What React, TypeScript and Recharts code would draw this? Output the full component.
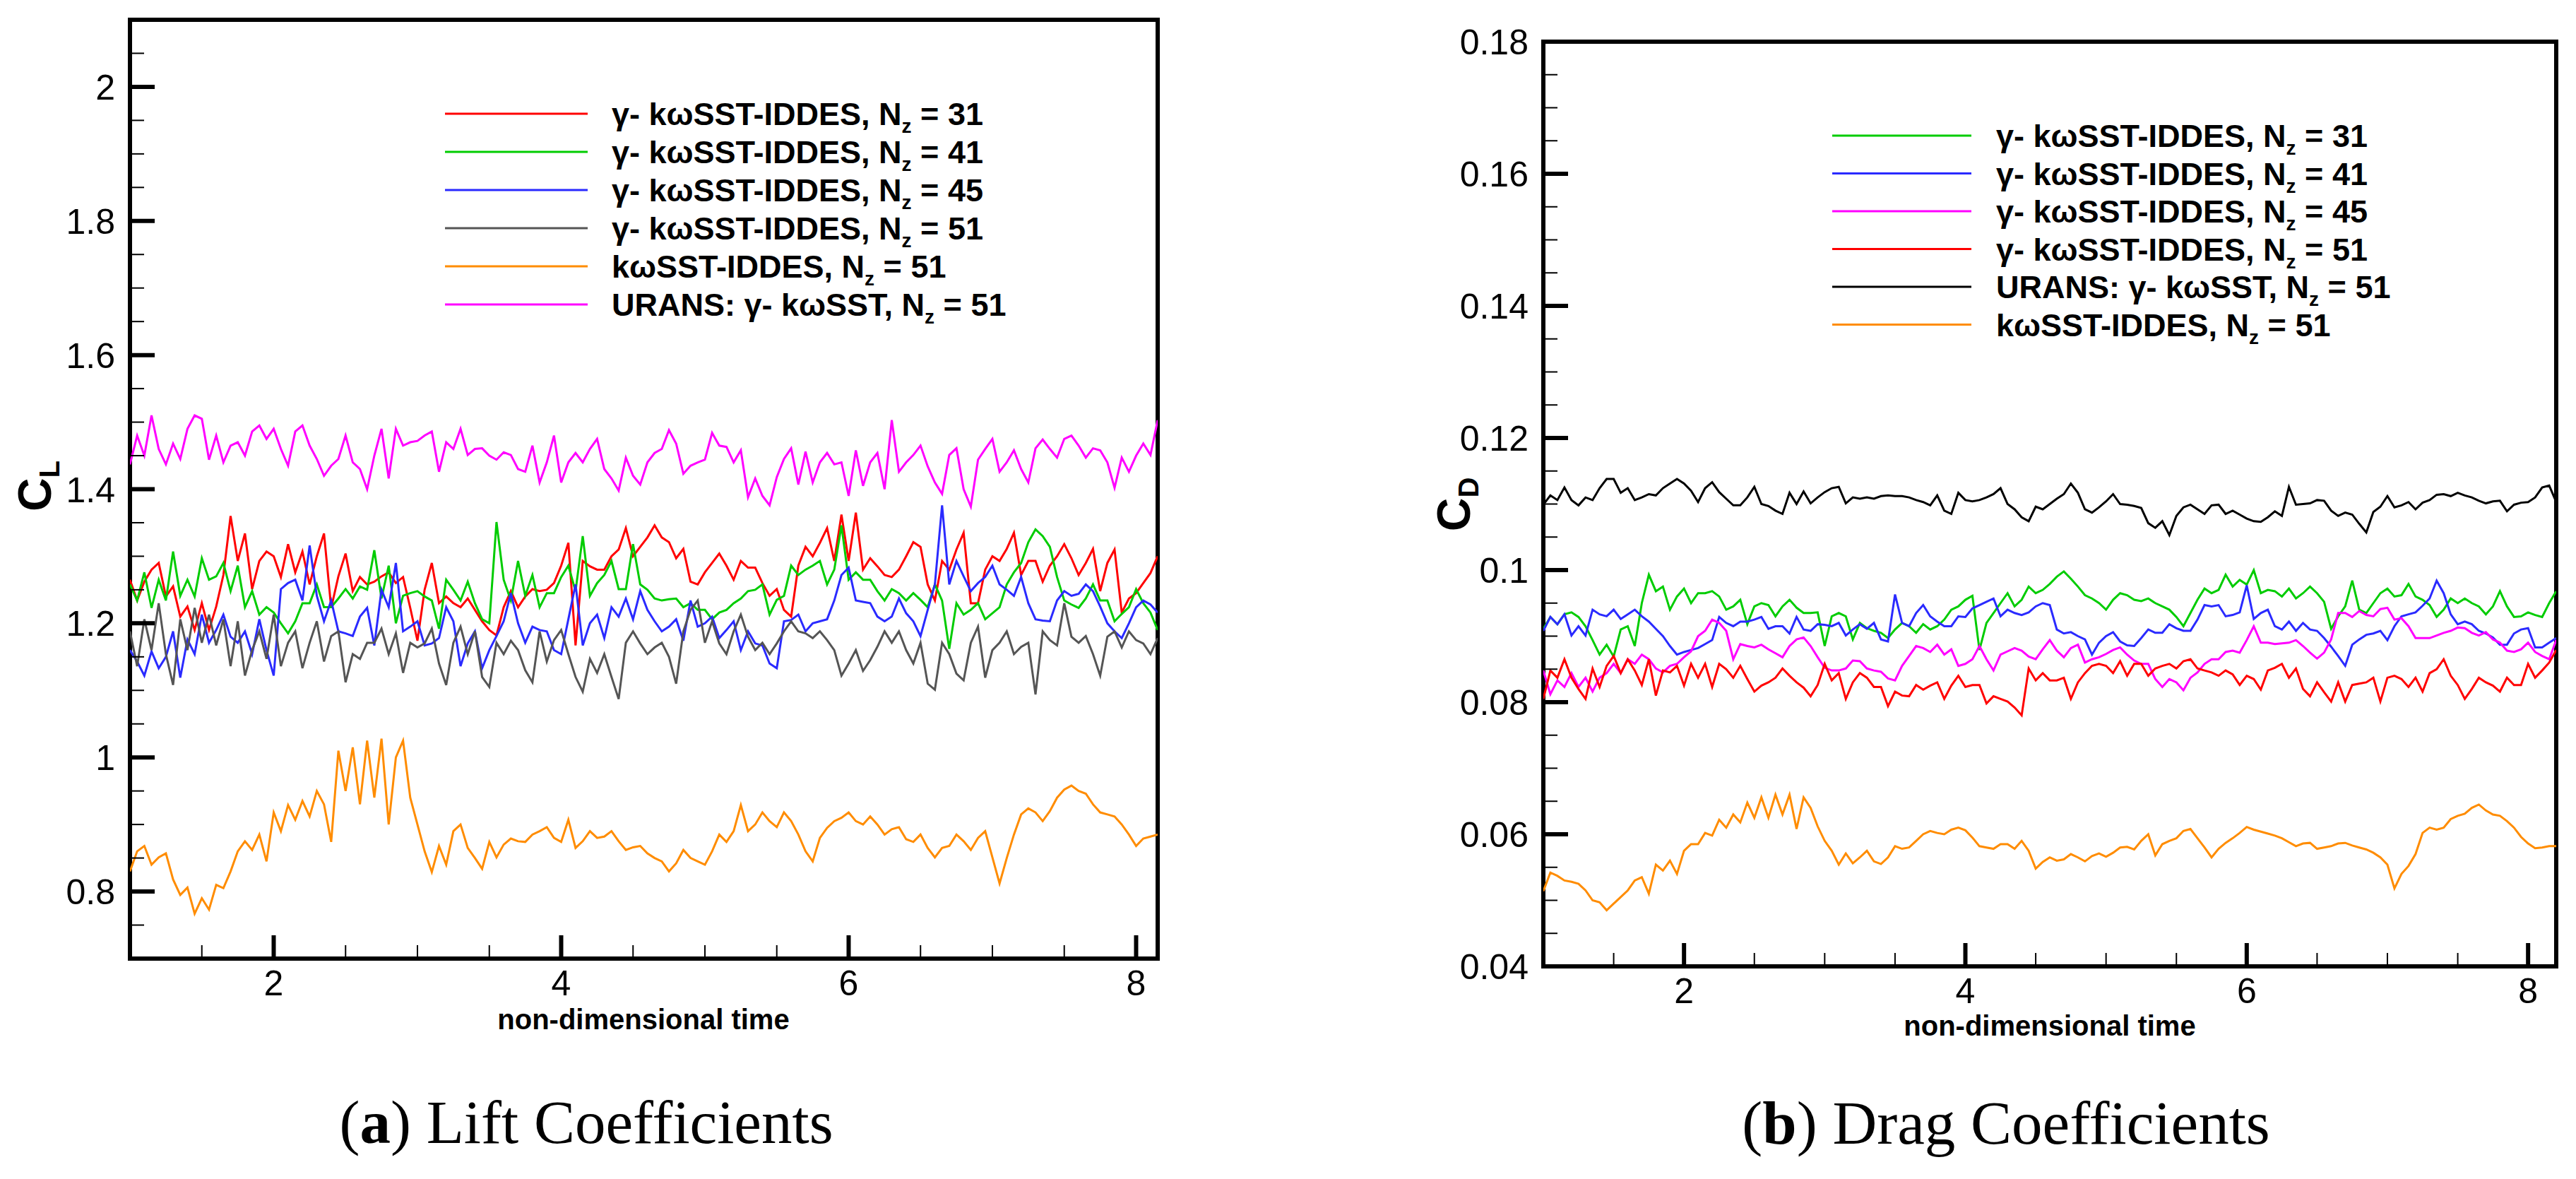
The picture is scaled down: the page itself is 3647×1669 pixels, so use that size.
import React from 'react'
import { LineChart, Line, XAxis, YAxis, ReferenceArea } from 'recharts'

const SANS = '"Liberation Sans", Arial, Helvetica, sans-serif'
const SERIF = '"Liberation Serif", "Times New Roman", Times, serif'

// every series is sampled 0.05 apart, starting at t = 1
const T_START = 1
const T_STEP = 0.05

// (a) lift coefficient
const liftNz31 = [
  1.265, 1.234, 1.262, 1.28, 1.29, 1.24, 1.255, 1.21, 1.225, 1.19, 1.23, 1.19,
  1.225, 1.272, 1.36, 1.293, 1.334, 1.251, 1.293, 1.307, 1.3, 1.269, 1.318, 1.276,
  1.307, 1.258, 1.3, 1.334, 1.223, 1.27, 1.304, 1.248, 1.269, 1.258, 1.262, 1.27,
  1.276, 1.26, 1.269, 1.223, 1.174, 1.25, 1.29, 1.23, 1.24, 1.23, 1.224, 1.237,
  1.22, 1.203, 1.19, 1.182, 1.224, 1.248, 1.224, 1.24, 1.251, 1.248, 1.25, 1.26,
  1.286, 1.32, 1.167, 1.293, 1.285, 1.28, 1.28, 1.3, 1.31, 1.342, 1.3, 1.314,
  1.328, 1.346, 1.328, 1.321, 1.297, 1.311, 1.262, 1.258, 1.276, 1.29, 1.304, 1.286,
  1.265, 1.293, 1.283, 1.283, 1.26, 1.241, 1.251, 1.22, 1.21, 1.286, 1.314, 1.3,
  1.32, 1.342, 1.293, 1.362, 1.293, 1.365, 1.28, 1.297, 1.285, 1.272, 1.269, 1.28,
  1.3, 1.321, 1.314, 1.258, 1.234, 1.293, 1.28, 1.31, 1.335, 1.23, 1.23, 1.28,
  1.3, 1.293, 1.311, 1.335, 1.272, 1.293, 1.293, 1.262, 1.286, 1.3, 1.318, 1.297,
  1.272, 1.29, 1.311, 1.248, 1.29, 1.31, 1.216, 1.237, 1.245, 1.26, 1.275, 1.3,
]
const liftNz41 = [
  1.258, 1.234, 1.276, 1.223, 1.265, 1.234, 1.307, 1.241, 1.265, 1.24, 1.297, 1.265,
  1.27, 1.29, 1.248, 1.286, 1.224, 1.248, 1.213, 1.224, 1.216, 1.2, 1.185, 1.203,
  1.23, 1.23, 1.258, 1.224, 1.224, 1.237, 1.251, 1.237, 1.255, 1.25, 1.309, 1.237,
  1.286, 1.2, 1.241, 1.245, 1.248, 1.24, 1.234, 1.192, 1.265, 1.25, 1.234, 1.262,
  1.23, 1.206, 1.2, 1.351, 1.265, 1.234, 1.293, 1.241, 1.272, 1.224, 1.245, 1.245,
  1.269, 1.286, 1.248, 1.33, 1.241, 1.26, 1.272, 1.293, 1.251, 1.251, 1.318, 1.258,
  1.25, 1.237, 1.234, 1.236, 1.237, 1.224, 1.23, 1.22, 1.22, 1.206, 1.216, 1.22,
  1.23, 1.237, 1.248, 1.25, 1.258, 1.213, 1.235, 1.241, 1.286, 1.272, 1.28, 1.286,
  1.293, 1.258, 1.28, 1.346, 1.265, 1.276, 1.265, 1.265, 1.248, 1.234, 1.251, 1.245,
  1.234, 1.245, 1.235, 1.224, 1.258, 1.234, 1.162, 1.23, 1.213, 1.22, 1.23, 1.206,
  1.215, 1.224, 1.258, 1.276, 1.29, 1.321, 1.34, 1.33, 1.314, 1.269, 1.234, 1.228,
  1.223, 1.237, 1.258, 1.234, 1.234, 1.203, 1.214, 1.224, 1.251, 1.23, 1.216, 1.19,
]
const liftNz45 = [
  1.16, 1.143, 1.122, 1.158, 1.133, 1.15, 1.188, 1.119, 1.176, 1.154, 1.213, 1.171,
  1.19, 1.213, 1.18, 1.171, 1.188, 1.154, 1.206, 1.16, 1.122, 1.251, 1.26, 1.265,
  1.234, 1.316, 1.241, 1.203, 1.234, 1.188, 1.185, 1.181, 1.21, 1.223, 1.167, 1.25,
  1.224, 1.29, 1.188, 1.195, 1.203, 1.167, 1.17, 1.178, 1.224, 1.203, 1.136, 1.17,
  1.188, 1.133, 1.16, 1.181, 1.203, 1.245, 1.2, 1.171, 1.195, 1.19, 1.188, 1.16,
  1.154, 1.206, 1.258, 1.167, 1.2, 1.213, 1.178, 1.224, 1.21, 1.237, 1.206, 1.248,
  1.22, 1.203, 1.188, 1.195, 1.206, 1.174, 1.234, 1.195, 1.2, 1.21, 1.178, 1.19,
  1.203, 1.16, 1.188, 1.17, 1.167, 1.14, 1.133, 1.203, 1.205, 1.213, 1.188, 1.2,
  1.203, 1.206, 1.234, 1.272, 1.283, 1.234, 1.232, 1.23, 1.21, 1.203, 1.21, 1.237,
  1.215, 1.203, 1.181, 1.22, 1.258, 1.376, 1.258, 1.293, 1.27, 1.248, 1.26, 1.269,
  1.286, 1.258, 1.25, 1.241, 1.269, 1.23, 1.206, 1.204, 1.203, 1.234, 1.248, 1.241,
  1.244, 1.258, 1.248, 1.225, 1.2, 1.188, 1.178, 1.2, 1.224, 1.234, 1.228, 1.216,
]
const liftNz51 = [
  1.188, 1.136, 1.206, 1.16, 1.23, 1.154, 1.108, 1.206, 1.16, 1.223, 1.171, 1.213,
  1.167, 1.206, 1.136, 1.203, 1.122, 1.16, 1.188, 1.147, 1.213, 1.136, 1.171, 1.188,
  1.133, 1.171, 1.203, 1.143, 1.181, 1.188, 1.112, 1.154, 1.147, 1.171, 1.171, 1.192,
  1.154, 1.185, 1.126, 1.171, 1.164, 1.17, 1.192, 1.14, 1.108, 1.171, 1.195, 1.154,
  1.188, 1.12, 1.105, 1.171, 1.154, 1.174, 1.16, 1.13, 1.112, 1.188, 1.143, 1.175,
  1.19, 1.154, 1.12, 1.098, 1.147, 1.126, 1.154, 1.12, 1.087, 1.171, 1.188, 1.17,
  1.154, 1.164, 1.171, 1.15, 1.11, 1.188, 1.22, 1.234, 1.171, 1.203, 1.17, 1.154,
  1.188, 1.213, 1.18, 1.16, 1.171, 1.154, 1.17, 1.188, 1.203, 1.188, 1.185, 1.178,
  1.188, 1.175, 1.16, 1.122, 1.14, 1.16, 1.129, 1.145, 1.165, 1.188, 1.171, 1.188,
  1.16, 1.14, 1.171, 1.11, 1.101, 1.171, 1.154, 1.125, 1.115, 1.171, 1.195, 1.119,
  1.16, 1.171, 1.188, 1.154, 1.165, 1.171, 1.094, 1.188, 1.175, 1.167, 1.23, 1.18,
  1.171, 1.181, 1.154, 1.122, 1.18, 1.188, 1.164, 1.188, 1.175, 1.17, 1.154, 1.178,
]
const liftSst51 = [
  0.83, 0.86, 0.868, 0.84, 0.851, 0.857, 0.818, 0.795, 0.806, 0.767, 0.79, 0.773,
  0.81, 0.805, 0.83, 0.86, 0.875, 0.862, 0.885, 0.845, 0.918, 0.89, 0.929, 0.907,
  0.935, 0.912, 0.95, 0.93, 0.874, 1.01, 0.95, 1.015, 0.93, 1.025, 0.94, 1.028,
  0.9, 1.0, 1.025, 0.94, 0.9, 0.86, 0.829, 0.868, 0.84, 0.89, 0.9, 0.865,
  0.85, 0.834, 0.874, 0.851, 0.87, 0.879, 0.875, 0.874, 0.885, 0.89, 0.896, 0.88,
  0.874, 0.907, 0.865, 0.875, 0.89, 0.88, 0.882, 0.89, 0.875, 0.862, 0.866, 0.868,
  0.857, 0.85, 0.845, 0.83, 0.842, 0.862, 0.85, 0.845, 0.84, 0.86, 0.885, 0.874,
  0.89, 0.929, 0.89, 0.9, 0.918, 0.905, 0.896, 0.918, 0.905, 0.885, 0.86, 0.845,
  0.88, 0.895, 0.905, 0.91, 0.918, 0.905, 0.9, 0.912, 0.9, 0.885, 0.893, 0.896,
  0.878, 0.874, 0.885, 0.865, 0.851, 0.865, 0.868, 0.885, 0.875, 0.862, 0.88, 0.89,
  0.851, 0.812, 0.85, 0.885, 0.915, 0.924, 0.918, 0.905, 0.92, 0.94, 0.952, 0.958,
  0.95, 0.946, 0.93, 0.918, 0.915, 0.912, 0.9, 0.885, 0.868, 0.879, 0.882, 0.885,
]
const liftUrans51 = [
  1.437, 1.48, 1.45, 1.51, 1.46, 1.437, 1.468, 1.445, 1.49, 1.51, 1.505, 1.444,
  1.48, 1.44, 1.465, 1.47, 1.45, 1.486, 1.495, 1.475, 1.49, 1.46, 1.435, 1.486,
  1.495, 1.465, 1.445, 1.42, 1.435, 1.445, 1.48, 1.44, 1.43, 1.4, 1.45, 1.49,
  1.416, 1.49, 1.465, 1.47, 1.472, 1.48, 1.486, 1.426, 1.47, 1.46, 1.49, 1.451,
  1.46, 1.461, 1.45, 1.444, 1.455, 1.451, 1.43, 1.426, 1.465, 1.41, 1.44, 1.48,
  1.41, 1.44, 1.454, 1.44, 1.46, 1.475, 1.43, 1.416, 1.398, 1.447, 1.42, 1.407,
  1.44, 1.454, 1.46, 1.488, 1.468, 1.423, 1.435, 1.44, 1.444, 1.484, 1.465, 1.463,
  1.44, 1.458, 1.388, 1.416, 1.39, 1.376, 1.418, 1.445, 1.461, 1.407, 1.456, 1.41,
  1.44, 1.454, 1.437, 1.44, 1.39, 1.458, 1.405, 1.44, 1.454, 1.4, 1.503, 1.426,
  1.44, 1.451, 1.465, 1.434, 1.41, 1.393, 1.451, 1.461, 1.4, 1.374, 1.444, 1.46,
  1.475, 1.426, 1.44, 1.458, 1.43, 1.41, 1.461, 1.474, 1.46, 1.447, 1.475, 1.48,
  1.465, 1.447, 1.461, 1.458, 1.44, 1.402, 1.447, 1.426, 1.45, 1.468, 1.451, 1.503,
]

// (b) drag coefficient
const dragNz31 = [
  0.0911, 0.0929, 0.0918, 0.0933, 0.0936, 0.0929, 0.0915, 0.0894, 0.0872, 0.0887, 0.0869, 0.091,
  0.0915, 0.0885, 0.095, 0.0993, 0.0968, 0.0975, 0.094, 0.096, 0.0972, 0.095, 0.0965, 0.0965,
  0.0968, 0.096, 0.094, 0.0945, 0.0955, 0.0918, 0.0945, 0.095, 0.0947, 0.093, 0.0945, 0.0955,
  0.0943, 0.0935, 0.0935, 0.0936, 0.0885, 0.093, 0.0935, 0.093, 0.0895, 0.092, 0.0912, 0.0908,
  0.0905, 0.0897, 0.091, 0.092, 0.0915, 0.0905, 0.0918, 0.091, 0.0915, 0.0925, 0.094, 0.0945,
  0.0955, 0.0961, 0.0879, 0.092, 0.0935, 0.095, 0.0965, 0.0945, 0.0955, 0.0975, 0.0965, 0.097,
  0.0979, 0.099, 0.0998, 0.0987, 0.0975, 0.0962, 0.0957, 0.095, 0.094, 0.0955, 0.0965, 0.0962,
  0.0955, 0.0953, 0.0957, 0.095, 0.0945, 0.094, 0.0929, 0.0915, 0.0935, 0.0955, 0.0972, 0.0965,
  0.097, 0.0993, 0.0975, 0.0985, 0.0978, 0.1, 0.0965, 0.097, 0.0968, 0.096, 0.0972, 0.0957,
  0.0965, 0.0975, 0.0965, 0.0952, 0.0911, 0.093, 0.0945, 0.0984, 0.094, 0.0935, 0.095, 0.0965,
  0.0972, 0.096, 0.0962, 0.0979, 0.096, 0.0955, 0.0947, 0.0929, 0.094, 0.0957, 0.095, 0.0957,
  0.095, 0.0945, 0.0933, 0.0945, 0.0968, 0.0945, 0.0929, 0.093, 0.0936, 0.0932, 0.0929, 0.095,
  0.0968,
]
const dragNz41 = [
  0.0908, 0.0929, 0.0918, 0.0933, 0.0901, 0.0915, 0.0901, 0.094, 0.0933, 0.093, 0.094, 0.0926,
  0.0933, 0.094, 0.093, 0.0922, 0.0911, 0.09, 0.0885, 0.0872, 0.0876, 0.0879, 0.0882, 0.0888,
  0.0894, 0.0929, 0.092, 0.0915, 0.0922, 0.0922, 0.0925, 0.0929, 0.0911, 0.0915, 0.0915, 0.0904,
  0.0929, 0.091, 0.0908, 0.0918, 0.0917, 0.0915, 0.092, 0.0901, 0.091, 0.0918, 0.0911, 0.092,
  0.0895, 0.0892, 0.0963, 0.092, 0.0915, 0.0935, 0.0947, 0.093, 0.0922, 0.0915, 0.0915, 0.093,
  0.0929, 0.0942, 0.0947, 0.0952, 0.0957, 0.093, 0.094, 0.0935, 0.0932, 0.0936, 0.0945, 0.095,
  0.0947, 0.091, 0.0904, 0.0906, 0.09, 0.0895, 0.0872, 0.089, 0.09, 0.0906, 0.0892, 0.0886,
  0.0885, 0.0897, 0.091, 0.0905, 0.0905, 0.0918, 0.0912, 0.0908, 0.0908, 0.0925, 0.0947, 0.0945,
  0.0947, 0.093, 0.0932, 0.0936, 0.0977, 0.0926, 0.0935, 0.094, 0.0915, 0.091, 0.0922, 0.0908,
  0.092, 0.091, 0.0908, 0.0897, 0.0884, 0.087, 0.0855, 0.0887, 0.0895, 0.0902, 0.0904, 0.0908,
  0.0894, 0.0915, 0.093, 0.0933, 0.0936, 0.0946, 0.0957, 0.0984, 0.0965, 0.0933, 0.0918, 0.0922,
  0.0918, 0.0908, 0.0904, 0.0898, 0.0887, 0.0887, 0.0904, 0.091, 0.0912, 0.0883, 0.0883, 0.089,
  0.0897,
]
const dragNz45 = [
  0.0848, 0.0812, 0.0833, 0.0823, 0.0844, 0.0823, 0.0837, 0.0816, 0.0837, 0.0844, 0.0858, 0.0844,
  0.0865, 0.0858, 0.0872, 0.0865, 0.0851, 0.0845, 0.0855, 0.0858, 0.0868, 0.0877, 0.09, 0.0908,
  0.0925, 0.092, 0.0908, 0.0865, 0.0888, 0.0885, 0.0883, 0.0887, 0.088, 0.0874, 0.0868, 0.0885,
  0.0895, 0.0898, 0.0885, 0.0868, 0.0852, 0.0848, 0.0848, 0.0851, 0.0863, 0.0862, 0.0851, 0.0848,
  0.0846, 0.0836, 0.0833, 0.0855, 0.087, 0.0885, 0.0882, 0.0876, 0.0887, 0.0872, 0.088, 0.0855,
  0.0858, 0.0865, 0.0885, 0.0865, 0.0848, 0.0872, 0.0877, 0.0882, 0.0878, 0.0869, 0.0865, 0.088,
  0.0894, 0.0878, 0.0868, 0.0882, 0.0887, 0.086, 0.0865, 0.0868, 0.0873, 0.0879, 0.0883, 0.0872,
  0.0863, 0.0858, 0.0858, 0.0835, 0.0823, 0.0835, 0.083, 0.0818, 0.0837, 0.0845, 0.0858, 0.0865,
  0.0865, 0.0876, 0.0878, 0.0875, 0.0894, 0.0915, 0.089, 0.089, 0.0888, 0.0889, 0.089, 0.0894,
  0.0885, 0.0875, 0.0866, 0.0875, 0.0895, 0.0935, 0.0935, 0.0929, 0.0938, 0.0932, 0.093, 0.0941,
  0.0943, 0.0925, 0.0927, 0.0915, 0.0897, 0.0897, 0.0897, 0.0901, 0.0905, 0.0908, 0.0913, 0.0912,
  0.0905, 0.0901, 0.0906, 0.0895, 0.089, 0.0878, 0.0876, 0.088, 0.089, 0.0876, 0.087, 0.0865,
  0.0894,
]
const dragNz51 = [
  0.0805, 0.0848, 0.0837, 0.0865, 0.0837, 0.082, 0.0805, 0.0851, 0.0823, 0.0855, 0.087, 0.0844,
  0.0865, 0.0848, 0.0826, 0.0865, 0.081, 0.0848, 0.0845, 0.0855, 0.0825, 0.0858, 0.0837, 0.0858,
  0.0823, 0.0858, 0.085, 0.0837, 0.0855, 0.0835, 0.0816, 0.0825, 0.083, 0.0837, 0.0851, 0.084,
  0.083, 0.0822, 0.0809, 0.0826, 0.0858, 0.0833, 0.0844, 0.0805, 0.083, 0.0844, 0.0837, 0.0823,
  0.0823, 0.0794, 0.0816, 0.081, 0.0809, 0.0826, 0.0819, 0.0825, 0.083, 0.0805, 0.0825, 0.084,
  0.0823, 0.0826, 0.0826, 0.0798, 0.0809, 0.0805, 0.0801, 0.0792, 0.078, 0.0851, 0.0833, 0.0844,
  0.0833, 0.0833, 0.0837, 0.0805, 0.083, 0.0844, 0.0855, 0.0858, 0.0855, 0.0844, 0.0862, 0.084,
  0.0858, 0.0858, 0.084, 0.0851, 0.0855, 0.0858, 0.0851, 0.0862, 0.0865, 0.0851, 0.0848, 0.0845,
  0.084, 0.0848, 0.0842, 0.0826, 0.084, 0.0835, 0.0819, 0.0848, 0.0852, 0.0858, 0.0837, 0.0851,
  0.082, 0.0809, 0.083, 0.0815, 0.0801, 0.083, 0.0801, 0.0826, 0.0828, 0.083, 0.0837, 0.0801,
  0.0837, 0.084, 0.0835, 0.0823, 0.0837, 0.0816, 0.0844, 0.085, 0.0865, 0.084, 0.0826, 0.0805,
  0.082, 0.0837, 0.083, 0.0825, 0.0816, 0.0837, 0.0826, 0.0826, 0.0858, 0.0837, 0.0848, 0.086,
  0.0879,
]
const dragUrans51 = [
  0.1099, 0.1113, 0.1106, 0.1125, 0.1106, 0.1098, 0.111, 0.1106, 0.1124, 0.1138, 0.1138, 0.1117,
  0.1124, 0.1106, 0.111, 0.1115, 0.1113, 0.1124, 0.1131, 0.1138, 0.1131, 0.112, 0.1103, 0.1124,
  0.1133, 0.1118, 0.1108, 0.1098, 0.1098, 0.111, 0.1126, 0.11, 0.1097, 0.109, 0.1085, 0.1117,
  0.11, 0.1119, 0.1101, 0.111, 0.1118, 0.1124, 0.1126, 0.1101, 0.111, 0.1108, 0.111, 0.1108,
  0.1112, 0.1113, 0.1112, 0.1112, 0.111, 0.1106, 0.1103, 0.1098, 0.1113, 0.109, 0.1085, 0.1117,
  0.1106, 0.1104, 0.1106, 0.111, 0.1115, 0.1124, 0.11, 0.1092, 0.108, 0.1074, 0.1096, 0.1092,
  0.11, 0.1108, 0.1115, 0.1131, 0.1117, 0.1092, 0.1087, 0.1095, 0.1104, 0.1115, 0.11, 0.1099,
  0.1097, 0.1094, 0.1071, 0.1064, 0.1074, 0.1053, 0.1082, 0.1095, 0.1099, 0.1092, 0.1085, 0.1098,
  0.1099, 0.1085, 0.109, 0.1084, 0.1078, 0.1074, 0.1073, 0.108, 0.1089, 0.1082, 0.1126, 0.1099,
  0.11, 0.1101, 0.1106, 0.1105, 0.109, 0.1082, 0.1087, 0.1084, 0.107, 0.1057, 0.1088, 0.1096,
  0.1112, 0.1095, 0.1098, 0.1103, 0.1092, 0.1102, 0.1106, 0.1114, 0.1115, 0.1112, 0.1117, 0.1113,
  0.111, 0.1105, 0.1101, 0.1104, 0.1105, 0.1089, 0.1099, 0.1102, 0.1103, 0.111, 0.1125, 0.1128,
  0.1103,
]
const dragSst51 = [
  0.0514, 0.0542, 0.0537, 0.053, 0.0528, 0.0525, 0.0515, 0.05, 0.0497, 0.0485, 0.0495, 0.0505,
  0.0515, 0.053, 0.0535, 0.051, 0.0554, 0.0545, 0.056, 0.054, 0.0575, 0.0585, 0.0585, 0.0602,
  0.0598, 0.0622, 0.061, 0.063, 0.0618, 0.0648, 0.0625, 0.0656, 0.0625, 0.066, 0.063, 0.066,
  0.0608, 0.0656, 0.064, 0.0612, 0.059, 0.0575, 0.0554, 0.0571, 0.0556, 0.0565, 0.0575, 0.0559,
  0.0555, 0.0565, 0.0582, 0.0578, 0.058, 0.059, 0.06, 0.0605, 0.0602, 0.06, 0.0607, 0.061,
  0.0606, 0.0595, 0.0582, 0.058, 0.0578, 0.0585, 0.0585, 0.0578, 0.059, 0.0575, 0.0548, 0.0558,
  0.0565, 0.056, 0.0562, 0.057, 0.0565, 0.0559, 0.0567, 0.0571, 0.0566, 0.0572, 0.058, 0.0581,
  0.0577, 0.059, 0.06, 0.0568, 0.0585, 0.059, 0.0594, 0.0605, 0.0608, 0.0594, 0.058, 0.0565,
  0.0578, 0.0587, 0.0594, 0.0602, 0.0611, 0.0607, 0.0604, 0.0601, 0.0598, 0.0594, 0.0588, 0.0582,
  0.0586, 0.0587, 0.0578, 0.058, 0.0582, 0.0586, 0.0587, 0.0583, 0.058, 0.0577, 0.0572, 0.0565,
  0.0554, 0.0518, 0.054, 0.0552, 0.057, 0.0602, 0.061, 0.0607, 0.061, 0.0623, 0.0628, 0.0631,
  0.064, 0.0645, 0.0636, 0.063, 0.0628, 0.062, 0.061, 0.0596, 0.0586, 0.0579, 0.058, 0.0582,
  0.0582,
]

// axis ticks
const timeMajor = [2, 4, 6, 8]
const timeMinor = [1.5, 2.5, 3, 3.5, 4.5, 5, 5.5, 6.5, 7, 7.5]
const liftMajor = [0.8, 1, 1.2, 1.4, 1.6, 1.8, 2]
const liftMinor = [
  0.75, 0.85, 0.9, 0.95, 1.05, 1.1, 1.15, 1.25, 1.3, 1.35, 1.45, 1.5, 1.55, 1.65, 1.7,
  1.75, 1.85, 1.9, 1.95, 2.05,
]
const dragMajor = [0.04, 0.06, 0.08, 0.1, 0.12, 0.14, 0.16, 0.18]
const dragMinor = [
  0.045, 0.05, 0.055, 0.065, 0.07, 0.075, 0.085, 0.09, 0.095, 0.105, 0.11, 0.115, 0.125,
  0.13, 0.135, 0.145, 0.15, 0.155, 0.165, 0.17, 0.175,
]

type Series = { key: string; color: string; values: number[]; pre: string; post: string }

const liftSeries: Series[] = [
  { key: 'nz31', color: '#ff0000', values: liftNz31, pre: 'γ- kωSST-IDDES, N', post: ' = 31' },
  { key: 'nz41', color: '#00cc00', values: liftNz41, pre: 'γ- kωSST-IDDES, N', post: ' = 41' },
  { key: 'nz45', color: '#2a2aff', values: liftNz45, pre: 'γ- kωSST-IDDES, N', post: ' = 45' },
  { key: 'nz51', color: '#555555', values: liftNz51, pre: 'γ- kωSST-IDDES, N', post: ' = 51' },
  { key: 'sst51', color: '#ff8c00', values: liftSst51, pre: 'kωSST-IDDES, N', post: ' = 51' },
  { key: 'urans51', color: '#ff00ff', values: liftUrans51, pre: 'URANS: γ- kωSST, N', post: ' = 51' },
]

const dragSeries: Series[] = [
  { key: 'nz31', color: '#00cc00', values: dragNz31, pre: 'γ- kωSST-IDDES, N', post: ' = 31' },
  { key: 'nz41', color: '#2a2aff', values: dragNz41, pre: 'γ- kωSST-IDDES, N', post: ' = 41' },
  { key: 'nz45', color: '#ff00ff', values: dragNz45, pre: 'γ- kωSST-IDDES, N', post: ' = 45' },
  { key: 'nz51', color: '#ff0000', values: dragNz51, pre: 'γ- kωSST-IDDES, N', post: ' = 51' },
  { key: 'urans51', color: '#000000', values: dragUrans51, pre: 'URANS: γ- kωSST, N', post: ' = 51' },
  { key: 'sst51', color: '#ff8c00', values: dragSst51, pre: 'kωSST-IDDES, N', post: ' = 51' },
]

function buildRows(series: Series[]) {
  const n = Math.max(...series.map((s) => s.values.length))
  const rows: Record<string, number>[] = []
  for (let i = 0; i < n; i++) {
    const row: Record<string, number> = { t: Math.round((T_START + i * T_STEP) * 100) / 100 }
    series.forEach((s) => {
      row[s.key] = s.values[i]
    })
    rows.push(row)
  }
  return rows
}

const fmt = (v: number) => String(parseFloat(v.toFixed(3)))
const has = (arr: number[], v: number) => arr.some((m) => Math.abs(m - v) < 1e-9)

type PanelProps = {
  left: number
  width: number
  margin: { top: number; right: number; bottom: number; left: number }
  xDomain: [number, number]
  yDomain: [number, number]
  yMajor: number[]
  yMinor: number[]
  series: Series[]
  legend: { x1: number; x2: number; textX: number; y0: number; dy: number }
  yTitle: { x: number; y: number; sub: string }
  xTitle: { x: number; y: number }
  caption: { x: number; y: number; tag: string; text: string }
}

function Panel(p: PanelProps) {
  const rows = buildRows(p.series)

  const yTick = (tp: any) => {
    const v = tp.payload.value
    const major = has(p.yMajor, v)
    return (
      <g>
        <line x1={tp.x} x2={tp.x + (major ? 35 : 20)} y1={tp.y} y2={tp.y} stroke="#000" strokeWidth={major ? 6 : 2} />
        {major ? (
          <text x={tp.x - 21} y={tp.y + 18} textAnchor="end" fontFamily={SANS} fontSize={50} fill="#000">
            {fmt(v)}
          </text>
        ) : null}
      </g>
    )
  }

  const xTick = (tp: any) => {
    const v = tp.payload.value
    const major = has(timeMajor, v)
    return (
      <g>
        <line x1={tp.x} x2={tp.x} y1={tp.y} y2={tp.y - (major ? 33 : 19)} stroke="#000" strokeWidth={major ? 6 : 2} />
        {major ? (
          <text x={tp.x} y={tp.y + 52} textAnchor="middle" fontFamily={SANS} fontSize={50} fill="#000">
            {fmt(v)}
          </text>
        ) : null}
      </g>
    )
  }

  // axes get a 1px band so that Recharts still draws their ticks
  const margin = { ...p.margin, left: p.margin.left - 1, bottom: p.margin.bottom - 1 }

  return (
    <div style={{ position: 'absolute', left: p.left, top: 0, width: p.width, height: 1669 }}>
      <LineChart width={p.width} height={1669} data={rows} margin={margin}>
        <XAxis
          dataKey="t"
          type="number"
          domain={p.xDomain}
          allowDataOverflow
          ticks={[...timeMajor, ...timeMinor]}
          interval={0}
          height={1}
          axisLine={false}
          tickLine={false}
          tickSize={0}
          tickMargin={0}
          tick={xTick}
        />
        <YAxis
          type="number"
          domain={p.yDomain}
          allowDataOverflow
          ticks={[...p.yMajor, ...p.yMinor]}
          interval={0}
          width={1}
          axisLine={false}
          tickLine={false}
          tickSize={0}
          tickMargin={0}
          tick={yTick}
        />
        {p.series.map((s) => (
          <Line
            key={s.key}
            type="linear"
            dataKey={s.key}
            stroke={s.color}
            strokeWidth={3}
            dot={false}
            activeDot={false}
            isAnimationActive={false}
          />
        ))}
        <ReferenceArea
          x1={p.xDomain[0]}
          x2={p.xDomain[1]}
          y1={p.yDomain[0]}
          y2={p.yDomain[1]}
          fill="none"
          fillOpacity={0}
          stroke="#000"
          strokeWidth={6}
          ifOverflow="visible"
        />
      </LineChart>

      <svg
        width={p.width}
        height={1669}
        style={{ position: 'absolute', left: 0, top: 0, pointerEvents: 'none' }}
      >
        {p.series.map((s, i) => {
          const y = p.legend.y0 + i * p.legend.dy
          return (
            <g key={s.key}>
              <line x1={p.legend.x1} x2={p.legend.x2} y1={y} y2={y} stroke={s.color} strokeWidth={3} />
              <text x={p.legend.textX} y={y + 16} fontFamily={SANS} fontWeight="bold" fontSize={45} fill="#000">
                {s.pre}
                <tspan fontSize={28} dy={11}>z</tspan>
                <tspan dy={-11}>{s.post}</tspan>
              </text>
            </g>
          )
        })}

        <text
          x={p.yTitle.x}
          y={p.yTitle.y}
          transform={`rotate(-90 ${p.yTitle.x} ${p.yTitle.y})`}
          textAnchor="middle"
          fontFamily={SANS}
          fontWeight="bold"
          fontSize={66}
          fill="#000"
        >
          C<tspan fontSize={40} dy={12}>{p.yTitle.sub}</tspan>
        </text>

        <text x={p.xTitle.x} y={p.xTitle.y} textAnchor="middle" fontFamily={SANS} fontWeight="bold" fontSize={40} fill="#000">
          non-dimensional time
        </text>

        <text x={p.caption.x} y={p.caption.y} textAnchor="middle" fontFamily={SERIF} fontSize={87} fill="#000">
          (<tspan fontWeight="bold">{p.caption.tag}</tspan>) {p.caption.text}
        </text>
      </svg>
    </div>
  )
}

export default function App() {
  return (
    <div style={{ position: 'absolute', left: 0, top: 0, width: 3647, height: 1669, background: '#fff', overflow: 'hidden' }}>
      <Panel
        left={0}
        width={1850}
        margin={{ top: 28, right: 211, bottom: 312, left: 184 }}
        xDomain={[1, 8.15]}
        yDomain={[0.7, 2.1]}
        yMajor={liftMajor}
        yMinor={liftMinor}
        series={liftSeries}
        legend={{ x1: 630, x2: 832, textX: 866, y0: 161, dy: 54 }}
        yTitle={{ x: 72, y: 688, sub: 'L' }}
        xTitle={{ x: 911, y: 1457 }}
        caption={{ x: 830, y: 1618, tag: 'a', text: 'Lift Coefficients' }}
      />
      <Panel
        left={1850}
        width={1797}
        margin={{ top: 59, right: 28, bottom: 301, left: 335 }}
        xDomain={[1, 8.2]}
        yDomain={[0.04, 0.18]}
        yMajor={dragMajor}
        yMinor={dragMinor}
        series={dragSeries}
        legend={{ x1: 744, x2: 941, textX: 976, y0: 192, dy: 53.5 }}
        yTitle={{ x: 231, y: 714, sub: 'D' }}
        xTitle={{ x: 1052, y: 1466 }}
        caption={{ x: 990, y: 1619, tag: 'b', text: 'Drag Coefficients' }}
      />
    </div>
  )
}
